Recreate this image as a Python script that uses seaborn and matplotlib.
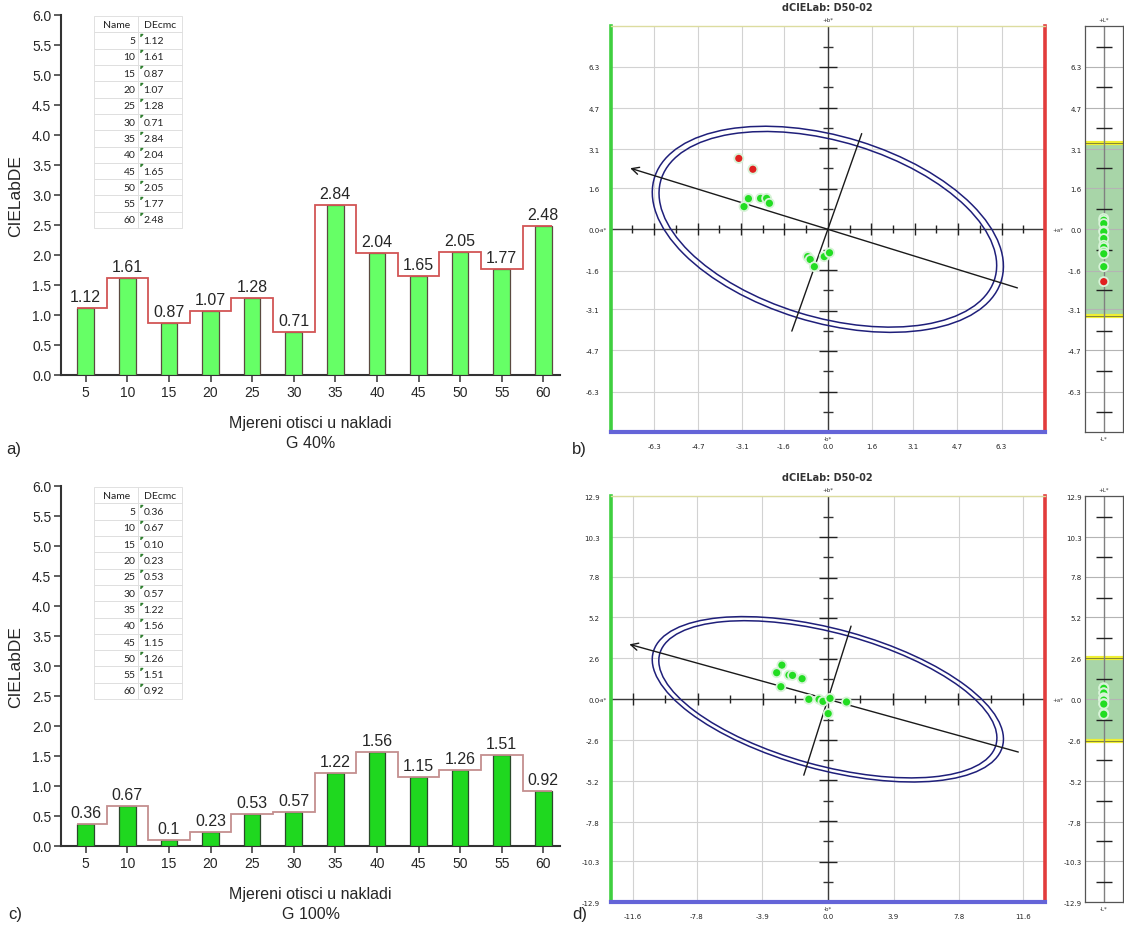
import numpy as np
import pandas as pd
import seaborn as sns
import matplotlib.pyplot as plt
from matplotlib.patches import Ellipse
from matplotlib.ticker import AutoMinorLocator
from matplotlib import font_manager

# ---------------- data ----------------
prints = [5, 10, 15, 20, 25, 30, 35, 40, 45, 50, 55, 60]
de_g40 = [1.12, 1.61, 0.87, 1.07, 1.28, 0.71, 2.84, 2.04, 1.65, 2.05, 1.77, 2.48]
de_g100 = [0.36, 0.67, 0.10, 0.23, 0.53, 0.57, 1.22, 1.56, 1.15, 1.26, 1.51, 0.92]

# dCIELab a*/b* scatter, G 40%
g40_da = [-3.04, -2.88, -2.44, -2.22, -2.12, -0.73, -0.64, -0.49, -0.13, 0.06, -3.23, -2.72]
g40_db = [0.88, 1.19, 1.20, 1.20, 1.01, -1.06, -1.17, -1.45, -1.06, -0.91, 2.75, 2.33]
g40_ab_state = ['in'] * 10 + ['out'] * 2
g40_dL = [0.42, 0.35, 0.22, -0.06, -0.10, -0.36, -0.62, -0.70, -0.87, -0.95, -1.45, -2.03]
g40_L_state = ['in'] * 11 + ['out']

# dCIELab a*/b* scatter, G 100%
g100_da = [-2.73, -3.04, -2.31, -2.10, -1.53, -2.79, -1.13, -0.52, -0.29, 0.13, 1.11, 0.02]
g100_db = [2.17, 1.69, 1.54, 1.52, 1.31, 0.80, 0.00, 0.00, -0.13, 0.06, -0.17, -0.91]
g100_ab_state = ['in'] * 12
g100_dL = [0.74, 0.70, 0.42, 0.40, 0.10, 0.05, 0.00, -0.05, -0.27, -0.30, -0.90, -0.95]
g100_L_state = ['in'] * 12

# axis ticks of the dCIELab views
g40_ticks = [-6.3, -4.7, -3.1, -1.6, 0.0, 1.6, 3.1, 4.7, 6.3]
g40_lim = 7.875
g100_yticks = [-12.9, -10.3, -7.8, -5.2, -2.6, 0.0, 2.6, 5.2, 7.8, 10.3, 12.9]
g100_xticks = [-11.6, -7.8, -3.9, 0.0, 3.9, 7.8, 11.6]
g100_lim = 12.9

# tolerance ellipse: outer a, outer b, inner a, inner b ; hue angle ; arm lengths
g40_ellipse = (6.6, 3.6, 6.35, 3.4)
g40_angle = -18.3
g40_arms = (7.55, 7.24, 3.91, 4.16)
g40_L_tol = 3.35
g100_ellipse = (10.8, 4.45, 10.4, 4.2)
g100_angle = -16.5
g100_arms = (12.3, 11.8, 4.85, 5.03)
g100_L_tol = 2.65

# ---------------- style ----------------
sns.set_style("white")
names = {f.name for f in font_manager.fontManager.ttflist}
bar_font = 'Liberation Sans Narrow' if 'Liberation Sans Narrow' in names else 'Liberation Sans'
plt.rcParams['font.family'] = ['DejaVu Sans']

pal = {'in': '#22dd22', 'out': '#e02020'}

fig = plt.figure(figsize=(11.24, 9.28), dpi=100)
W, H = 1124, 928


def px_axes(left, top, right, bottom):
    return fig.add_axes([left / W, 1 - bottom / H, (right - left) / W, (bottom - top) / H])


def bar_panel(ax, values, face, edge, step_color, caption):
    df = pd.DataFrame({'print': [str(p) for p in prints], 'de': values})
    sns.barplot(data=df, x='print', y='de', color=face, width=0.4, saturation=1,
                edgecolor=edge, linewidth=0.9, errorbar=None, ax=ax, zorder=3)
    xs = np.arange(len(values))
    edges = np.concatenate([[xs[0] - 0.2], (xs[:-1] + xs[1:]) / 2, [xs[-1] + 0.2]])
    ax.stairs(values, edges, baseline=None, color=step_color, lw=1.3, zorder=4)
    for x, v in zip(xs, values):
        ax.annotate(f"{v:g}", (x, v), xytext=(0, 5), textcoords='offset points',
                    ha='center', va='baseline', fontsize=11.5, family=bar_font)
    ax.set_xlim(-0.594, 11.40)
    ax.set_ylim(0, 6)
    ax.set_yticks(np.arange(0, 6.01, 0.5))
    ax.set_yticklabels([f"{t:.1f}" for t in np.arange(0, 6.01, 0.5)])
    ax.yaxis.set_minor_locator(AutoMinorLocator(2))
    ax.tick_params(axis='both', which='major', direction='out', length=5, width=1.1,
                   color='#333333', labelsize=10, pad=2)
    ax.tick_params(axis='y', which='minor', direction='out', length=3, width=1, color='#333333')
    ax.tick_params(left=True, bottom=True)
    for lab in ax.get_xticklabels() + ax.get_yticklabels():
        lab.set_family(bar_font)
    sns.despine(ax=ax)
    for s in ('left', 'bottom'):
        ax.spines[s].set_color('#333333')
        ax.spines[s].set_linewidth(1.5)
    ax.set_ylabel('CIELabDE', fontsize=12.5, family=bar_font, labelpad=6)
    ax.set_xlabel('Mjereni otisci u nakladi\n' + caption, fontsize=11.5, family=bar_font,
                  labelpad=12, linespacing=1.4)

    # inset value table
    x0, w, top, h = 0.0667, 0.1758, 0.997, 0.589
    rows = [[str(p), f"{v:.2f}"] for p, v in zip(prints, values)]
    tab = ax.table(cellText=rows, colLabels=['Name', 'DEcmc'], cellLoc='left',
                   bbox=[x0, top - h, w, h], zorder=5)
    tab.auto_set_font_size(False)
    tab.set_fontsize(7.5)
    for (r, c), cell in tab.get_celld().items():
        cell.set_edgecolor('#dcdcdc')
        cell.set_linewidth(0.6)
        cell.PAD = 0.06
        txt = cell.get_text()
        txt.set_family('Lato')
        txt.set_color('#222222')
        if r > 0 and c == 0:
            cell._loc = 'right'
            txt.set_horizontalalignment('right')
        if r > 0 and c == 1:
            cell.PAD = 0.12
    rh = h / (len(values) + 1)
    ty = top - rh * np.arange(1, len(values) + 1) - 0.004
    ax.scatter(np.full(len(values), x0 + w / 2 + 0.003), ty, transform=ax.transAxes,
               marker=[(0, 0), (1, 0), (0, -1)], s=10, color='#2f7f2f', zorder=6, clip_on=False)


def cross_marks(ticks, lim):
    step = np.diff(ticks).mean()
    half = step / 2
    n = int(np.floor(lim / half - 1e-6))
    k = np.arange(-n, n + 1)
    k = k[k != 0]
    return k * half, k % 2 == 0


def ab_panel(ax, da, db, state, xticks, yticks, lim, ell, ang, arms):
    ax.set_xlim(-lim, lim)
    ax.set_ylim(-lim, lim)
    ax.set_xticks(xticks, labels=[f"{t:.1f}" for t in xticks])
    ax.set_yticks(yticks, labels=[f"{t:.1f}" for t in yticks])
    ax.grid(True, color='#d2d2d2', lw=0.8)
    ax.set_axisbelow(True)
    ax.tick_params(length=0, labelsize=5, pad=8, labelcolor='#222222')
    ax.axhline(0, color='#3a3a3a', lw=1, zorder=2)
    ax.axvline(0, color='#3a3a3a', lw=1, zorder=2)

    mx, long_x = cross_marks(xticks, lim)
    ax.plot(mx[long_x], np.zeros(long_x.sum()), ls='none', marker='|', ms=9, mew=1, color='#222222', zorder=2)
    ax.plot(mx[~long_x], np.zeros((~long_x).sum()), ls='none', marker='|', ms=6, mew=1, color='#222222', zorder=2)
    my, long_y = cross_marks(yticks, lim)
    ax.plot(np.zeros(long_y.sum()), my[long_y], ls='none', marker='_', ms=13, mew=1, color='#222222', zorder=2)
    ax.plot(np.zeros((~long_y).sum()), my[~long_y], ls='none', marker='_', ms=7, mew=1, color='#333333', zorder=2)

    for a, b in ((ell[0], ell[1]), (ell[2], ell[3])):
        ax.add_patch(Ellipse((0, 0), 2 * a, 2 * b, angle=ang, fill=False, ec='#1f1f7a', lw=1.1, zorder=3))
    t = np.radians(ang)
    tip = (-arms[0] * np.cos(t), -arms[0] * np.sin(t))
    tail = (arms[1] * np.cos(t), arms[1] * np.sin(t))
    ax.annotate('', xy=tip, xytext=tail,
                arrowprops=dict(arrowstyle='->', lw=1, color='#1a1a1a', shrinkA=0, shrinkB=0,
                                mutation_scale=13), zorder=4)
    ax.plot([-arms[3] * -np.sin(t), arms[2] * -np.sin(t)],
            [-arms[3] * np.cos(t), arms[2] * np.cos(t)], color='#1a1a1a', lw=1, zorder=4)

    sns.scatterplot(x=da, y=db, hue=state, palette=pal, s=42, edgecolor='#d8f3d8',
                    linewidth=1.3, legend=False, ax=ax, zorder=6)

    for s, c, lw in (('left', '#3fcf3f', 2.6), ('right', '#e23c3c', 2.6),
                     ('bottom', '#6464d8', 3.0), ('top', '#dcdca0', 1.0)):
        ax.spines[s].set_visible(True)
        ax.spines[s].set_color(c)
        ax.spines[s].set_linewidth(lw)

    kw = dict(fontsize=4, color='#333333')
    ax.annotate('+b*', xy=(0, 1), xycoords=('data', 'axes fraction'), xytext=(0, 3),
                textcoords='offset points', ha='center', va='bottom', **kw)
    ax.annotate('-b*', xy=(0, 0), xycoords=('data', 'axes fraction'), xytext=(0, -2.5),
                textcoords='offset points', ha='center', va='top', **kw)
    ax.annotate('-a*', xy=(0, 0), xycoords=('axes fraction', 'data'), xytext=(-2.5, 0),
                textcoords='offset points', ha='right', va='center', **kw)
    ax.annotate('+a*', xy=(1, 0), xycoords=('axes fraction', 'data'), xytext=(5, 0),
                textcoords='offset points', ha='left', va='center', **kw)


def l_strip(ax, dL, state, yticks, lim, tol):
    ax.set_xlim(-1, 1)
    ax.set_ylim(-lim, lim)
    ax.axhspan(-tol, tol, color='#a8d5a8', zorder=0)
    for y in yticks:
        ax.axhline(y, color='#b4b4b4', lw=0.8, zorder=1)
    for y in (-tol, tol):
        ax.axhline(y, color='#efef33', lw=3, zorder=2)
        ax.axhline(y, color='#5a5a3a', lw=0.5, zorder=2)
    ax.axvline(0, color='#808080', lw=1, zorder=2)
    my, long_y = cross_marks(yticks, lim)
    ax.plot(np.zeros((~long_y).sum()), my[~long_y], ls='none', marker='_', ms=11, mew=1,
            color='#222222', zorder=3)
    sns.scatterplot(x=np.zeros(len(dL)), y=dL, hue=state, palette=pal, s=42,
                    edgecolor='#d8f3d8', linewidth=1.3, legend=False, ax=ax, zorder=6)
    ax.set_xticks([])
    ax.set_yticks(yticks, labels=[f"{t:.1f}" for t in yticks])
    ax.tick_params(length=0, labelsize=5, pad=2, labelcolor='#222222')
    for s in ax.spines.values():
        s.set_visible(True)
        s.set_color('#555555')
        s.set_linewidth(0.9)
    kw = dict(fontsize=4, color='#333333')
    ax.annotate('+L*', xy=(0.5, 1), xycoords='axes fraction', xytext=(0, 3),
                textcoords='offset points', ha='center', va='bottom', **kw)
    ax.annotate('-L*', xy=(0.5, 0), xycoords='axes fraction', xytext=(0, -3),
                textcoords='offset points', ha='center', va='top', **kw)


# ---------------- panels ----------------
ax_a = px_axes(61, 16, 560, 376)
bar_panel(ax_a, de_g40, '#66ff66', '#5a4a40', '#d25555', 'G 40%')
ax_c = px_axes(61, 487, 560, 847)
bar_panel(ax_c, de_g100, '#1fd81f', '#2b4a2b', '#c48f8f', 'G 100%')

ax_b = px_axes(610.7, 27.3, 1045, 433.3)
ab_panel(ax_b, g40_da, g40_db, g40_ab_state, g40_ticks, g40_ticks, g40_lim,
         g40_ellipse, g40_angle, g40_arms)
ax_bl = px_axes(1084.5, 27.3, 1123, 433.3)
l_strip(ax_bl, g40_dL, g40_L_state, g40_ticks, g40_lim, g40_L_tol)

ax_d = px_axes(610.7, 497.3, 1045, 903.3)
ab_panel(ax_d, g100_da, g100_db, g100_ab_state, g100_xticks, g100_yticks, g100_lim,
         g100_ellipse, g100_angle, g100_arms)
ax_dl = px_axes(1084.5, 497.3, 1123, 903.3)
l_strip(ax_dl, g100_dL, g100_L_state, g100_yticks, g100_lim, g100_L_tol)

for y in (8, 478):
    fig.text(827.8 / W, 1 - y / H, 'dCIELab: D50-02', ha='center', va='center',
             fontsize=7, weight='bold', color='#333333')

for x, y, s in ((14, 450, 'a)'), (579, 450, 'b)'), (15, 915, 'c)'), (580, 915, 'd)')):
    fig.text(x / W, 1 - y / H, s, ha='center', va='center', fontsize=12, family=bar_font)

fig.savefig('out.png', dpi=100)
